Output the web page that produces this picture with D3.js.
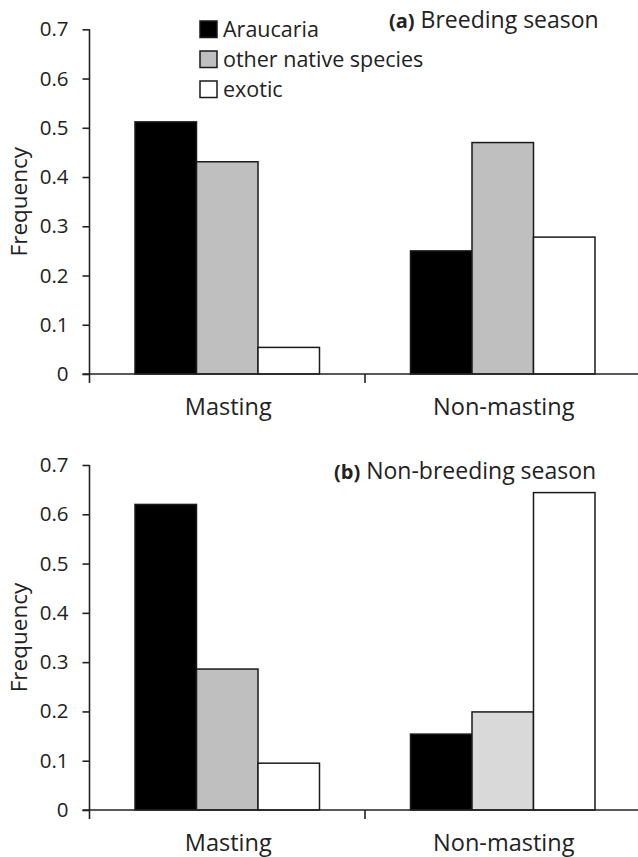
<!DOCTYPE html>
<html>
<head>
<meta charset="utf-8">
<script src="https://d3js.org/d3.v7.min.js"></script>
<style>
  body { margin: 0; background: #fff; }
  text { font-family: "Open Sans", sans-serif; fill: #222; }
</style>
</head>
<body>
<div id="chart"></div>
<script>
const categories = ['Masting', 'Non-masting'];
const seriesNames = ['Araucaria', 'other native species', 'exotic'];
const yTicks = [0, 0.1, 0.2, 0.3, 0.4, 0.5, 0.6, 0.7];

// (a) breeding season, values per category
const breedingAraucaria = [0.512, 0.25];
const breedingOther = [0.431, 0.47];
const breedingExotic = [0.054, 0.278];

// (b) non-breeding season
const nonBreedingAraucaria = [0.62, 0.154];
const nonBreedingOther = [0.286, 0.199];
const nonBreedingExotic = [0.095, 0.644];

const panelTags = ['(a)', '(b)'];
const panelTitles = ['Breeding season', 'Non-breeding season'];

const width = 638;
const height = 857;

const svg = d3.select('#chart')
  .append('svg')
  .attr('width', width)
  .attr('height', height);

const fillColor = d3.scaleOrdinal()
  .domain(seriesNames)
  .range(['#000000', '#bfbfbf', '#ffffff']);

const panels = [
  { top: 29.3, bottom: 374, values: [breedingAraucaria, breedingOther, breedingExotic], legend: true },
  { top: 465, bottom: 810, values: [nonBreedingAraucaria, nonBreedingOther, nonBreedingExotic], legend: false }
];

const axisLeftX = 89.5;

const x0 = d3.scaleBand()
  .domain(categories)
  .range([axisLeftX, 640.5])
  .paddingInner(0)
  .paddingOuter(0);

const x1 = d3.scaleBand()
  .domain(seriesNames)
  .range([0, x0.bandwidth()])
  .paddingInner(0)
  .paddingOuter(0.74);

panels.forEach((p, pi) => {
  const y = d3.scaleLinear()
    .domain([0, 0.7])
    .range([p.bottom, p.top]);

  const g = svg.append('g');

  // bars
  const rows = categories.map((c, ci) => ({
    category: c,
    bars: seriesNames.map((s, si) => ({ series: s, value: p.values[si][ci] }))
  }));

  g.selectAll('.group')
    .data(rows)
    .enter()
    .append('g')
    .attr('transform', d => `translate(${x0(d.category)},0)`)
    .selectAll('rect')
    .data(d => d.bars.map(b => Object.assign({ category: d.category }, b)))
    .enter()
    .append('rect')
    .attr('x', d => x1(d.series))
    .attr('width', x1.bandwidth())
    .attr('y', d => y(d.value))
    .attr('height', d => y(0) - y(d.value))
    .attr('fill', d => {
      // lighter grey for this one bar in panel (b)
      if (pi === 1 && d.category === 'Non-masting' && d.series === 'other native species') return '#d9d9d9';
      return fillColor(d.series);
    })
    .attr('stroke', '#1a1a1a')
    .attr('stroke-width', 1.5);

  // y axis
  const yAxis = g.append('g')
    .attr('transform', `translate(${axisLeftX},0)`)
    .call(d3.axisLeft(y)
      .tickValues(yTicks)
      .tickSize(7)
      .tickSizeOuter(0)
      .tickPadding(14)
      .tickFormat(d => d === 0 ? '0' : d3.format('.1f')(d)));

  yAxis.select('.domain')
    .attr('stroke', '#222')
    .attr('stroke-width', 1.6)
    .attr('d', `M0,${p.top}V${p.bottom + 9}`);
  yAxis.selectAll('.tick line')
    .attr('stroke', '#222')
    .attr('stroke-width', 1.6);
  yAxis.selectAll('.tick text')
    .attr('font-size', 20.5)
    .attr('font-family', '"Open Sans", sans-serif')
    .attr('fill', '#222');

  // x axis line and boundary ticks
  g.append('line')
    .attr('x1', axisLeftX - 7)
    .attr('x2', width)
    .attr('y1', y(0))
    .attr('y2', y(0))
    .attr('stroke', '#222')
    .attr('stroke-width', 1.6);

  const bounds = categories.slice(1).map(c => x0(c)).concat([x0.range()[1]]);
  g.selectAll('.xtick')
    .data(bounds)
    .enter()
    .append('line')
    .attr('x1', d => d)
    .attr('x2', d => d)
    .attr('y1', y(0))
    .attr('y2', y(0) + 9)
    .attr('stroke', '#222')
    .attr('stroke-width', 1.6);

  g.selectAll('.xlabel')
    .data(categories)
    .enter()
    .append('text')
    .attr('x', d => x0(d) + x0.bandwidth() / 2 + 1)
    .attr('y', y(0) + 41)
    .attr('text-anchor', 'middle')
    .attr('font-size', 23.5)
    .text(d => d);

  // y axis title
  g.append('text')
    .attr('transform', `translate(19,${(p.top + p.bottom) / 2}) rotate(-90)`)
    .attr('text-anchor', 'middle')
    .attr('dy', '0.35em')
    .attr('font-size', 22.5)
    .text('Frequency');

  // panel title
  const title = g.append('text')
    .attr('x', pi === 0 ? 389 : 334)
    .attr('y', pi === 0 ? 28 : 479);
  title.append('tspan')
    .attr('font-weight', 'bold')
    .attr('font-size', 20)
    .text(panelTags[pi]);
  title.append('tspan')
    .attr('font-size', 23)
    .text(' ' + panelTitles[pi]);

  // legend
  if (p.legend) {
    const lg = g.append('g')
      .attr('transform', 'translate(200,21)');
    const item = lg.selectAll('.item')
      .data(seriesNames)
      .enter()
      .append('g')
      .attr('transform', (d, i) => `translate(0,${i * 30})`);
    item.append('rect')
      .attr('width', 17)
      .attr('height', 16.5)
      .attr('fill', d => fillColor(d))
      .attr('stroke', '#1a1a1a')
      .attr('stroke-width', 1.5);
    item.append('text')
      .attr('x', 23)
      .attr('y', 15.5)
      .attr('font-size', 21.5)
      .text(d => d);
  }
});
</script>
</body>
</html>
